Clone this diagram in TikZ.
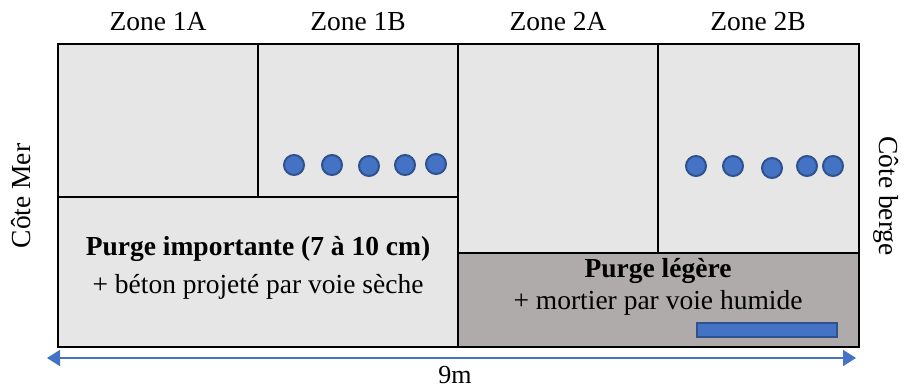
\documentclass[tikz,border=0pt]{standalone}
\usepackage{fontspec}
\setmainfont{Liberation Serif}
\usetikzlibrary{arrows.meta}
\definecolor{cell}{HTML}{E6E6E6}
\definecolor{darkcell}{HTML}{AFABAB}
\definecolor{dotblue}{HTML}{4472C4}
\definecolor{dotedge}{HTML}{2F528F}
\tikzset{
  cellbox/.style={draw=black,line width=1.8pt,fill=cell},
  darkbox/.style={draw=black,line width=1.8pt,fill=darkcell},
  dot/.style={circle,minimum size=20pt,inner sep=0pt,fill=dotblue,draw=dotedge,line width=2pt},
  lbl/.style={font=\fontsize{27.5}{32}\selectfont,inner sep=0pt,anchor=base},
  dim/.style={draw=dotblue,line width=1.8pt,{Triangle[length=13pt,width=16pt]}-{Triangle[length=13pt,width=16pt]}}
}
\begin{document}
\begin{tikzpicture}[x=1pt,y=-1pt]
\useasboundingbox (0,0) rectangle (904,388);
% cells
\draw[cellbox] (58,44) rectangle (258,197);
\draw[cellbox] (258,44) rectangle (458,197);
\draw[cellbox] (58,197) rectangle (458,347);
\draw[cellbox] (458,44) rectangle (658,253);
\draw[cellbox] (658,44) rectangle (859,253);
\draw[darkbox] (458,253) rectangle (859,347);
\draw[line width=2.6pt] (58,44) rectangle (859,347);
% zone labels
\node[lbl] (z1a) at (158,30) {Zone 1A};
\node[lbl] (z1b) at (358,30) {Zone 1B};
\node[lbl] (z2a) at (558,30) {Zone 2A};
\node[lbl] (z2b) at (758,30) {Zone 2B};
% side labels
\node[font=\fontsize{27.5}{32}\selectfont,inner sep=0pt,rotate=90] (mer) at (21,196) {Côte Mer};
\node[font=\fontsize{27.5}{32}\selectfont,inner sep=0pt,rotate=-90] (berge) at (886,196) {Côte berge};
% dots
\node[dot] (d1) at (294,165) {};
\node[dot] (d2) at (332,165) {};
\node[dot] (d3) at (369,166) {};
\node[dot] (d4) at (405,165) {};
\node[dot] (d5) at (436,164) {};
\node[dot] (e1) at (696,166) {};
\node[dot] (e2) at (733,166) {};
\node[dot] (e3) at (772,168) {};
\node[dot] (e4) at (807,166) {};
\node[dot] (e5) at (833,166) {};
% texts
\node[lbl] (t1) at (258,255) {\textbf{Purge importante (7 à 10 cm)}};
\node[lbl] (t2) at (258,293) {+ béton projeté par voie sèche};
\node[lbl] (t3) at (658,277) {\textbf{Purge légère}};
\node[lbl] (t4) at (658,309) {+ mortier par voie humide};
% blue bar
\draw[fill=dotblue,draw=dotedge,line width=1.5pt] (697,323) rectangle (837,337);
% dimension
\coordinate (a1) at (47,358);
\coordinate (a2) at (856,358);
\draw[dim] (a1) -- (a2);
\node[lbl,font=\fontsize{26}{30}\selectfont] (m) at (455,383) {9m};
\end{tikzpicture}
\end{document}
